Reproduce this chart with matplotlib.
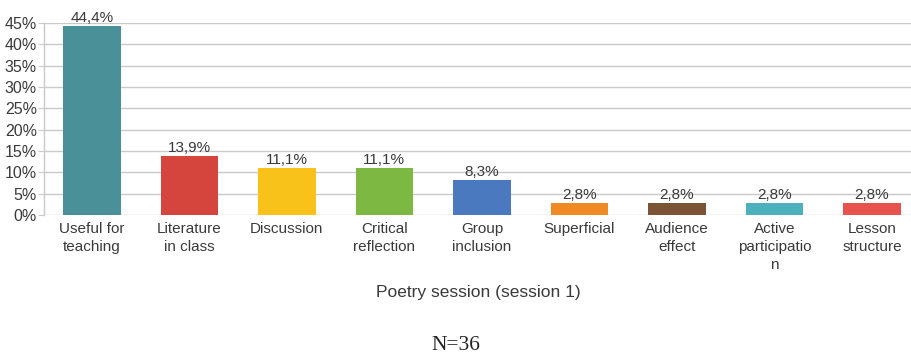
import matplotlib
matplotlib.use("Agg")
import matplotlib.pyplot as plt
from matplotlib.ticker import FuncFormatter

categories = ["Useful for\nteaching", "Literature\nin class", "Discussion",
              "Critical\nreflection", "Group\ninclusion", "Superficial",
              "Audience\neffect", "Active\nparticipatio\nn", "Lesson\nstructure"]
values = [44.4, 13.9, 11.1, 11.1, 8.3, 2.8, 2.8, 2.8, 2.8]
colors = ["#4A9099", "#D6453D", "#F9C21B", "#7DB843", "#4B79C0",
          "#F08A24", "#7B5438", "#4DB0BD", "#E8524C"]
yticks = [0, 5, 10, 15, 20, 25, 30, 35, 40, 45]

plt.rcParams["font.family"] = ["Liberation Sans", "DejaVu Sans"]
text_color = "#3a3a3a"
grid_color = "#c9c9c9"

fig = plt.figure(figsize=(9.12, 3.62), dpi=100)
ax = fig.add_axes([44 / 912, 1 - 215 / 362, (912 - 44) / 912, (215 - 23) / 362])

x = list(range(len(categories)))
ax.bar(x, values, width=0.59, color=colors, zorder=3)

for xi, v in zip(x, values):
    ax.text(xi, v + 0.2, f"{v:.1f}%".replace(".", ","), ha="center", va="bottom",
            fontsize=11, color=text_color, zorder=4)

ax.set_ylim(0, 45)
ax.set_xlim(-0.49, 8.41)
ax.set_yticks(yticks)
ax.yaxis.set_major_formatter(FuncFormatter(lambda v, p: f"{int(v)}%"))
ax.set_xticks(x)
ax.set_xticklabels(categories, linespacing=1.38)
ax.tick_params(axis="y", length=4, color=grid_color, labelsize=11.5, labelcolor=text_color, pad=1)
ax.tick_params(axis="x", length=0, labelsize=11, labelcolor=text_color, pad=5)

ax.grid(axis="y", color=grid_color, linewidth=1, zorder=0)
for side in ["top", "right", "bottom"]:
    ax.spines[side].set_visible(False)
ax.spines["left"].set_color(grid_color)
ax.spines["left"].set_linewidth(1)

ax.set_xlabel("Poetry session (session 1)", fontsize=12.5, color=text_color, labelpad=9)

fig.text(0.5, 1 - 345 / 362, "N=36", ha="center", va="center",
         fontsize=15.5, family=["Liberation Serif", "DejaVu Serif"], color="#222222")

fig.savefig("out.png", dpi=100)
